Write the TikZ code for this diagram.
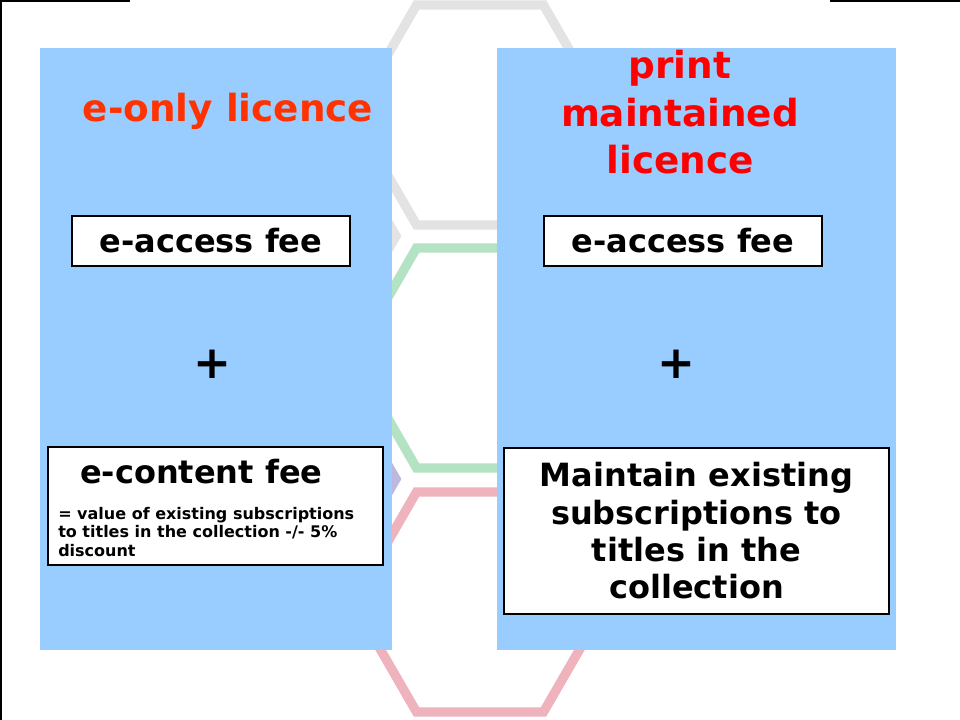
\documentclass[tikz,border=0pt]{standalone}
\usepackage{fontspec}
\setmainfont{DejaVu Sans}
\definecolor{panelblue}{HTML}{99CCFF}
\definecolor{hexgray}{HTML}{E3E3E3}
\definecolor{hexgreen}{HTML}{B4E3C4}
\definecolor{hexpink}{HTML}{EFB3BD}
\definecolor{hexpurple}{HTML}{BDB8E0}
\definecolor{titleorange}{HTML}{FF3300}
\tikzset{
  panel/.style={fill=panelblue, draw=none, inner sep=0pt, outer sep=0pt},
  feebox/.style={draw=black, line width=1.5pt, fill=white, inner sep=0pt},
  hexline/.style={line width=7pt, line join=miter},
  bigtext/.style={font=\fontsize{28}{35.6}\selectfont\bfseries},
  midtext/.style={font=\fontsize{24}{28}\selectfont\bfseries},
  plustext/.style={font=\fontsize{34}{40}\selectfont\bfseries, inner sep=0pt},
  frameline/.style={line width=1.5pt, black},
}
\newcommand\hexcell[3]{%
  \draw[hexline,#3] ({#1-127},#2) -- ({#1-63.5},{#2-110}) -- ({#1+63.5},{#2-110})
    -- ({#1+127},#2) -- ({#1+63.5},{#2+110}) -- ({#1-63.5},{#2+110}) -- cycle;}
\begin{document}
\begin{tikzpicture}[x=0.75pt,y=-0.75pt]
\useasboundingbox (0,0) rectangle (960,720);
\fill[white] (0,0) rectangle (960,720);
% frame lines
\draw[frameline] (0,1) -- (130,1);
\draw[frameline] (830,1) -- (960,1);
\draw[frameline] (1,0) -- (1,720);
% honeycomb background
\hexcell{269}{236}{hexgray}
\hexcell{269}{479}{hexpurple}
\hexcell{480}{115}{hexgray}
\hexcell{480}{358}{hexgreen}
\hexcell{480}{602}{hexpink}
% panels
\node[panel, minimum width=264pt, minimum height=451.5pt] (leftpanel) at (216,349) {};
\node[panel, minimum width=299.25pt, minimum height=451.5pt] (rightpanel) at (696.5,349) {};
% titles
\node[anchor=base, text=titleorange, bigtext, inner sep=0pt] (lefttitle) at (228,122) {e-only licence};
\node[align=center, text=red, bigtext, inner sep=0pt] (righttitle) at (680,112.5) {print\\maintained\\licence};
% access fee boxes
\node[feebox, midtext, minimum width=208.5pt, minimum height=37.5pt] (leftaccess) at (211,241) {e-access fee};
\node[feebox, midtext, minimum width=208.5pt, minimum height=37.5pt] (rightaccess) at (683,241) {e-access fee};
% plus signs
\node[plustext] (leftplus) at (212.5,364) {+};
\node[plustext] (rightplus) at (676,364) {+};
% e-content box
\node[feebox, minimum width=251.25pt, minimum height=88.5pt] (contentbox) at (215.5,506) {};
\node[anchor=base west, midtext, inner sep=0pt] (contenttitle) at (80,483) {e-content fee};
\node[anchor=north west, align=left, font=\fontsize{12}{13.9}\selectfont\bfseries, inner sep=0pt] (contentnote) at (58,507) {= value of existing subscriptions\\to titles in the collection -/- 5\%\\discount};
% maintain box
\node[feebox, midtext, align=center, minimum width=288.75pt, minimum height=124.5pt] (maintainbox) at (696.5,531) {Maintain existing\\subscriptions to\\titles in the\\collection};
\end{tikzpicture}
\end{document}
